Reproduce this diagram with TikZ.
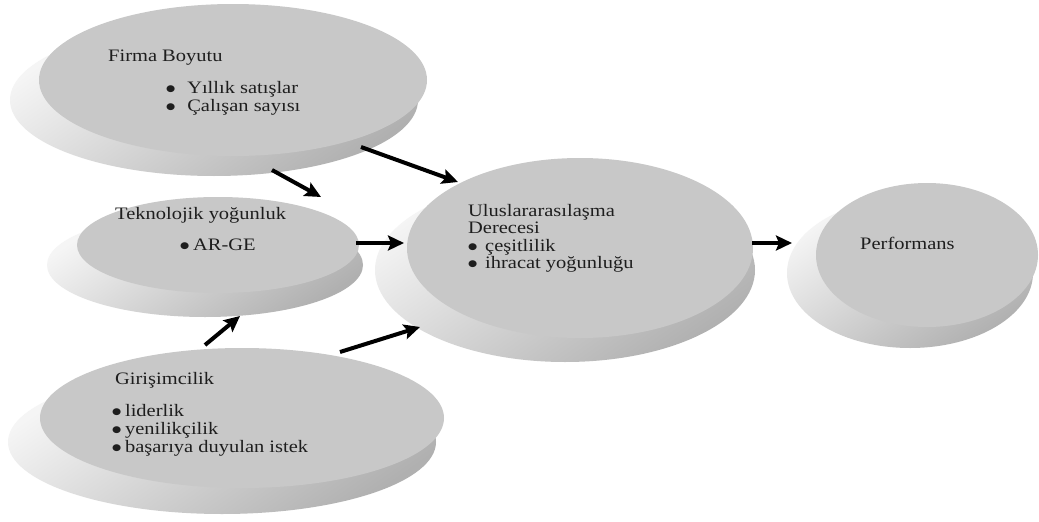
\documentclass[tikz,border=0pt]{standalone}
\usepackage{fontspec}
\setmainfont{Liberation Serif}
\newfontfamily\dotfont{DejaVu Sans}
\usetikzlibrary{shapes.geometric, arrows.meta}
\definecolor{facegray}{HTML}{C8C8C8}
\definecolor{inkgray}{HTML}{1E1E1E}
% text is set slightly wider than its natural shape
\newcommand\wide[1]{\scalebox{1.17}[1]{#1}}
% a round list bullet
\newcommand\bdot{\raisebox{1.6pt}{{\dotfont\fontsize{9}{9}\selectfont ●}}}
% bullet item: #1 = room for the bullet, #2 = item text
\newcommand\bul[2]{\wide{\makebox[#1][l]{\bdot}#2}}

\begin{document}
\begin{tikzpicture}[x=1pt, y=-1pt,
  face/.style={ellipse, fill=facegray, inner sep=0pt, outer sep=0pt},
  rim/.style={ellipse, inner sep=0pt, outer sep=0pt, shade,
              top color=gray!8, bottom color=gray!62, shading angle=35},
  txt/.style={anchor=base west, inner sep=0pt, text=inkgray,
              font=\fontsize{17.5}{18}\selectfont},
  arr/.style={line width=4pt, -{Stealth[length=16pt, width=15pt, inset=3pt]}}]

\fill[white] (0,0) rectangle (1039,522);
\useasboundingbox (0,0) rectangle (1039,522);

% discs: a shaded rim under a flat top face
\node[rim, minimum width=408, minimum height=152] (firmaRim) at (214,100) {};
\node[face, minimum width=388, minimum height=152] (firma) at (233,80) {};

\node[rim, minimum width=316, minimum height=104] (teknoRim) at (205,265) {};
\node[face, minimum width=282, minimum height=96] (tekno) at (218,245) {};

\node[rim, minimum width=428, minimum height=144] (girisRim) at (222,442) {};
\node[face, minimum width=404, minimum height=140] (giris) at (242,418) {};

\node[rim, minimum width=380, minimum height=184] (ulusRim) at (565,270) {};
\node[face, minimum width=346, minimum height=180] (ulus) at (580,248) {};

\node[rim, minimum width=246, minimum height=150] (perfRim) at (910,273) {};
\node[face, minimum width=222, minimum height=144] (perf) at (927,255) {};

% labels
\node[txt] (fT)  at (108,61)  {\wide{Firma Boyutu}};
\node[txt] (fB1) at (166,93)  {\bul{18pt}{Yıllık satışlar}};
\node[txt] (fB2) at (166,111) {\bul{18pt}{Çalışan sayısı}};

\node[txt] (tT)  at (115,219) {\wide{Teknolojik yoğunluk}};
\node[txt] (tB1) at (180,250) {\bul{11pt}{AR-GE}};

\node[txt] (gT)  at (115,384) {\wide{Girişimcilik}};
\node[txt] (gB1) at (112,416) {\bul{11pt}{liderlik}};
\node[txt] (gB2) at (112,434) {\bul{11pt}{yenilikçilik}};
\node[txt] (gB3) at (112,452) {\bul{11pt}{başarıya duyulan istek}};

\node[txt] (uT1) at (468,216) {\wide{Uluslararasılaşma}};
\node[txt] (uT2) at (468,233) {\wide{Derecesi}};
\node[txt] (uB1) at (468,251) {\bul{14.5pt}{çeşitlilik}};
\node[txt] (uB2) at (468,268) {\bul{14.5pt}{ihracat yoğunluğu}};

\node[txt] (pT)  at (860,249) {\wide{Performans}};

% arrow end points in the gaps between the discs
\coordinate (fToT) at (272,170);
\coordinate (tFromF) at (321,197);
\coordinate (fToU) at (361,147);
\coordinate (uFromF) at (458,182);
\coordinate (tToU) at (356,243);
\coordinate (uFromT) at (404,243);
\coordinate (gToT) at (205,345);
\coordinate (tFromG) at (240,316);
\coordinate (gToU) at (340,352);
\coordinate (uFromG) at (420,327);
\coordinate (uToP) at (752,243);
\coordinate (pFromU) at (792,243);

\draw[arr] (fToT) -- (tFromF);
\draw[arr] (fToU) -- (uFromF);
\draw[arr] (tToU) -- (uFromT);
\draw[arr] (gToT) -- (tFromG);
\draw[arr] (gToU) -- (uFromG);
\draw[arr] (uToP) -- (pFromU);
\end{tikzpicture}
\end{document}
